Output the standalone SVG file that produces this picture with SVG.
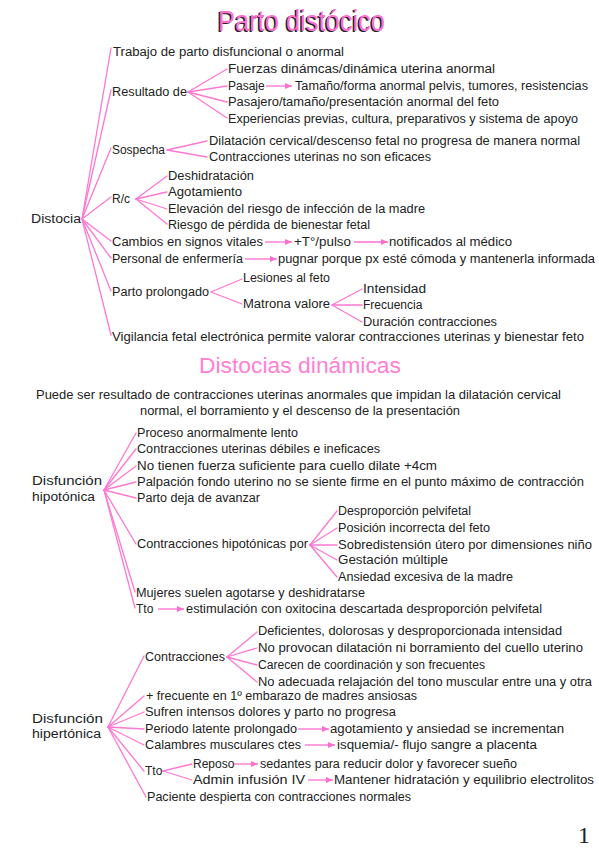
<svg xmlns="http://www.w3.org/2000/svg" width="599" height="848" viewBox="0 0 599 848">
<defs>
<marker id="ah" markerWidth="7" markerHeight="6" refX="7" refY="3" orient="auto" markerUnits="userSpaceOnUse">
<path d="M0,0 L7,3 L0,6 z" fill="#ff6fcf"/>
</marker>
<style>
text{font-family:"Liberation Sans",Arial,sans-serif;font-size:12px;fill:#222}
.c line{stroke:#ff78d2;stroke-width:1.3;stroke-linecap:round}
.a line{stroke:#ff6fcf;stroke-width:1.3;marker-end:url(#ah)}
.title{font-size:30px;fill:#ff6fcf}
.shadow{font-size:30px;fill:#222}
.title2{font-size:22px;fill:#ff80d5}
</style>
</defs>
<rect width="599" height="848" fill="#fff"/>

<g id="title1">
<text class="shadow" x="216.5" y="32" textLength="167" lengthAdjust="spacingAndGlyphs">Parto distócico</text>
<text class="title" x="218" y="31" textLength="167" lengthAdjust="spacingAndGlyphs">Parto distócico</text>
</g>

<g class="c" id="connectors">
<line x1="82" y1="219" x2="111" y2="48"/>
<line x1="82" y1="219" x2="111" y2="90"/>
<line x1="82" y1="219" x2="111" y2="148"/>
<line x1="82" y1="219" x2="111" y2="197"/>
<line x1="82" y1="219" x2="111" y2="241"/>
<line x1="82" y1="219" x2="111" y2="258"/>
<line x1="82" y1="219" x2="111" y2="291"/>
<line x1="82" y1="219" x2="111" y2="335"/>
<line x1="188" y1="92" x2="227" y2="69"/>
<line x1="188" y1="92" x2="227" y2="86"/>
<line x1="188" y1="92" x2="227" y2="102"/>
<line x1="188" y1="92" x2="227" y2="118"/>
<line x1="167" y1="150" x2="207" y2="141"/>
<line x1="167" y1="150" x2="207" y2="157"/>
<line x1="136" y1="199" x2="167" y2="176"/>
<line x1="136" y1="199" x2="167" y2="192"/>
<line x1="136" y1="199" x2="167" y2="209"/>
<line x1="136" y1="199" x2="167" y2="224"/>
<line x1="211" y1="292" x2="242" y2="279"/>
<line x1="211" y1="292" x2="242" y2="304"/>
<line x1="332" y1="305" x2="362" y2="289"/>
<line x1="332" y1="305" x2="362" y2="305"/>
<line x1="332" y1="305" x2="362" y2="322"/>
<line x1="104" y1="490" x2="136" y2="433"/>
<line x1="104" y1="490" x2="136" y2="449"/>
<line x1="104" y1="490" x2="136" y2="466"/>
<line x1="104" y1="490" x2="136" y2="482"/>
<line x1="104" y1="490" x2="136" y2="498"/>
<line x1="104" y1="490" x2="136" y2="544"/>
<line x1="104" y1="490" x2="135" y2="592"/>
<line x1="104" y1="490" x2="135" y2="608"/>
<line x1="310" y1="545" x2="337" y2="511"/>
<line x1="310" y1="545" x2="337" y2="528"/>
<line x1="310" y1="545" x2="337" y2="545"/>
<line x1="310" y1="545" x2="337" y2="560"/>
<line x1="310" y1="545" x2="337" y2="577"/>
<line x1="108" y1="727" x2="144" y2="656"/>
<line x1="108" y1="727" x2="144" y2="696"/>
<line x1="108" y1="727" x2="144" y2="712"/>
<line x1="108" y1="727" x2="144" y2="729"/>
<line x1="108" y1="727" x2="144" y2="745"/>
<line x1="108" y1="727" x2="144" y2="771"/>
<line x1="108" y1="727" x2="146" y2="797"/>
<line x1="227" y1="657" x2="257" y2="632"/>
<line x1="227" y1="657" x2="257" y2="648"/>
<line x1="227" y1="657" x2="257" y2="665"/>
<line x1="227" y1="657" x2="257" y2="682"/>
<line x1="163" y1="771" x2="192" y2="764"/>
<line x1="163" y1="771" x2="192" y2="780"/>
</g>

<g class="a" id="arrows">
<line x1="266" y1="86" x2="292" y2="86"/>
<line x1="265" y1="242" x2="292" y2="242"/>
<line x1="354" y1="242" x2="388" y2="242"/>
<line x1="245" y1="259" x2="277" y2="259"/>
<line x1="158" y1="609" x2="184" y2="609"/>
<line x1="298" y1="729" x2="329" y2="729"/>
<line x1="305" y1="745" x2="335" y2="745"/>
<line x1="234" y1="764" x2="258" y2="764"/>
<line x1="308" y1="780" x2="333" y2="780"/>
</g>

<g id="distocia"><text x="31" y="223" textLength="50" lengthAdjust="spacingAndGlyphs">Distocia</text></g>
<g id="trabajo"><text x="113" y="56" textLength="231" lengthAdjust="spacingAndGlyphs">Trabajo de parto disfuncional o anormal</text></g>
<g id="resultado"><text x="112" y="96" textLength="75" lengthAdjust="spacingAndGlyphs">Resultado de</text></g>
<g id="fuerzas"><text x="228" y="73" textLength="267" lengthAdjust="spacingAndGlyphs">Fuerzas dinámcas/dinámica uterina anormal</text></g>
<g id="pasaje"><text x="228" y="90">Pasaje</text></g>
<g id="tamano"><text x="295" y="90" textLength="293" lengthAdjust="spacingAndGlyphs">Tamaño/forma anormal pelvis, tumores, resistencias</text></g>
<g id="pasajero"><text x="228" y="106" textLength="271" lengthAdjust="spacingAndGlyphs">Pasajero/tamaño/presentación anormal del feto</text></g>
<g id="experiencias"><text x="228" y="122.5" textLength="350" lengthAdjust="spacingAndGlyphs">Experiencias previas, cultura, preparativos y sistema de apoyo</text></g>
<g id="sospecha"><text x="112" y="154" textLength="53" lengthAdjust="spacingAndGlyphs">Sospecha</text></g>
<g id="dilatacion"><text x="209" y="145" textLength="371" lengthAdjust="spacingAndGlyphs">Dilatación cervical/descenso fetal no progresa de manera normal</text></g>
<g id="contr-ef"><text x="209" y="161" textLength="222" lengthAdjust="spacingAndGlyphs">Contracciones uterinas no son eficaces</text></g>
<g id="rc"><text x="112" y="203">R/c</text></g>
<g id="deshidratacion"><text x="168" y="180" textLength="86" lengthAdjust="spacingAndGlyphs">Deshidratación</text></g>
<g id="agotamiento"><text x="168" y="196" textLength="74" lengthAdjust="spacingAndGlyphs">Agotamiento</text></g>
<g id="elevacion"><text x="168" y="213" textLength="257" lengthAdjust="spacingAndGlyphs">Elevación del riesgo de infección de la madre</text></g>
<g id="riesgo"><text x="168" y="228.5" textLength="202" lengthAdjust="spacingAndGlyphs">Riesgo de pérdida de bienestar fetal</text></g>
<g id="cambios"><text x="112" y="246" textLength="151" lengthAdjust="spacingAndGlyphs">Cambios en signos vitales</text></g>
<g id="ta"><text x="294" y="246" textLength="57" lengthAdjust="spacingAndGlyphs">+T°/pulso</text></g>
<g id="notificados"><text x="389" y="246" textLength="123" lengthAdjust="spacingAndGlyphs">notificados al médico</text></g>
<g id="personal"><text x="112" y="263" textLength="131" lengthAdjust="spacingAndGlyphs">Personal de enfermería</text></g>
<g id="pugnar"><text x="278" y="263" textLength="317" lengthAdjust="spacingAndGlyphs">pugnar porque px esté cómoda y mantenerla informada</text></g>
<g id="prolongado"><text x="112" y="296" textLength="97" lengthAdjust="spacingAndGlyphs">Parto prolongado</text></g>
<g id="lesiones"><text x="243" y="282" textLength="87" lengthAdjust="spacingAndGlyphs">Lesiones al feto</text></g>
<g id="matrona"><text x="243" y="308" textLength="87" lengthAdjust="spacingAndGlyphs">Matrona valore</text></g>
<g id="intensidad"><text x="363" y="293" textLength="63" lengthAdjust="spacingAndGlyphs">Intensidad</text></g>
<g id="frecuencia"><text x="363" y="309">Frecuencia</text></g>
<g id="duracion"><text x="363" y="326" textLength="134" lengthAdjust="spacingAndGlyphs">Duración contracciones</text></g>
<g id="vigilancia"><text x="112" y="340.5" textLength="472" lengthAdjust="spacingAndGlyphs">Vigilancia fetal electrónica permite valorar contracciones uterinas y bienestar feto</text></g>

<g id="title2"><text class="title2" x="199" y="373" textLength="202" lengthAdjust="spacingAndGlyphs">Distocias dinámicas</text></g>
<g id="intro">
<text x="36" y="399" textLength="525" lengthAdjust="spacingAndGlyphs">Puede ser resultado de contracciones uterinas anormales que impidan la dilatación cervical</text>
<text x="140" y="415" textLength="320" lengthAdjust="spacingAndGlyphs">normal, el borramiento y el descenso de la presentación</text>
</g>

<g id="hipotonica">
<text x="32" y="485" textLength="70" lengthAdjust="spacingAndGlyphs">Disfunción</text>
<text x="32" y="501" textLength="63" lengthAdjust="spacingAndGlyphs">hipotónica</text>
</g>
<g id="proceso"><text x="137" y="437" textLength="161" lengthAdjust="spacingAndGlyphs">Proceso anormalmente lento</text></g>
<g id="debiles"><text x="137" y="453" textLength="243" lengthAdjust="spacingAndGlyphs">Contracciones uterinas débiles e ineficaces</text></g>
<g id="fuerza"><text x="137" y="470" textLength="300" lengthAdjust="spacingAndGlyphs">No tienen fuerza suficiente para cuello dilate +4cm</text></g>
<g id="palpacion"><text x="137" y="486" textLength="447" lengthAdjust="spacingAndGlyphs">Palpación fondo uterino no se siente firme en el punto máximo de contracción</text></g>
<g id="deja"><text x="137" y="502" textLength="123" lengthAdjust="spacingAndGlyphs">Parto deja de avanzar</text></g>
<g id="hipo-por"><text x="137" y="548" textLength="171" lengthAdjust="spacingAndGlyphs">Contracciones hipotónicas por</text></g>
<g id="desproporcion"><text x="338" y="515" textLength="133" lengthAdjust="spacingAndGlyphs">Desproporción pelvifetal</text></g>
<g id="posicion"><text x="338" y="532" textLength="152" lengthAdjust="spacingAndGlyphs">Posición incorrecta del feto</text></g>
<g id="sobredistension"><text x="338" y="549" textLength="254" lengthAdjust="spacingAndGlyphs">Sobredistensión útero por dimensiones niño</text></g>
<g id="gestacion"><text x="338" y="564" textLength="110" lengthAdjust="spacingAndGlyphs">Gestación múltiple</text></g>
<g id="ansiedad"><text x="338" y="581" textLength="175" lengthAdjust="spacingAndGlyphs">Ansiedad excesiva de la madre</text></g>
<g id="mujeres"><text x="136" y="597" textLength="229" lengthAdjust="spacingAndGlyphs">Mujeres suelen agotarse y deshidratarse</text></g>
<g id="tto1"><text x="136" y="613">Tto</text></g>
<g id="estimulacion"><text x="186" y="613" textLength="356" lengthAdjust="spacingAndGlyphs">estimulación con oxitocina descartada desproporción pelvifetal</text></g>

<g id="hipertonica">
<text x="32" y="723" textLength="71" lengthAdjust="spacingAndGlyphs">Disfunción</text>
<text x="32" y="738" textLength="69" lengthAdjust="spacingAndGlyphs">hipertónica</text>
</g>
<g id="contracciones"><text x="145" y="661" textLength="80" lengthAdjust="spacingAndGlyphs">Contracciones</text></g>
<g id="deficientes"><text x="258" y="635" textLength="304" lengthAdjust="spacingAndGlyphs">Deficientes, dolorosas y desproporcionada intensidad</text></g>
<g id="provocan"><text x="258" y="652" textLength="325" lengthAdjust="spacingAndGlyphs">No provocan dilatación ni borramiento del cuello uterino</text></g>
<g id="carecen"><text x="258" y="669" textLength="227" lengthAdjust="spacingAndGlyphs">Carecen de coordinación y son frecuentes</text></g>
<g id="adecuada"><text x="258" y="686" textLength="334" lengthAdjust="spacingAndGlyphs">No adecuada relajación del tono muscular entre una y otra</text></g>
<g id="frecuente"><text x="146" y="700" textLength="271" lengthAdjust="spacingAndGlyphs">+ frecuente en 1º embarazo de madres ansiosas</text></g>
<g id="sufren"><text x="145" y="716" textLength="251" lengthAdjust="spacingAndGlyphs">Sufren intensos dolores y parto no progresa</text></g>
<g id="periodo"><text x="145" y="733" textLength="152" lengthAdjust="spacingAndGlyphs">Periodo latente prolongado</text></g>
<g id="agot-ans"><text x="330" y="733" textLength="234" lengthAdjust="spacingAndGlyphs">agotamiento y ansiedad se incrementan</text></g>
<g id="calambres"><text x="145" y="749" textLength="156" lengthAdjust="spacingAndGlyphs">Calambres musculares ctes</text></g>
<g id="isquemia"><text x="337" y="749" textLength="200" lengthAdjust="spacingAndGlyphs">isquemia/- flujo sangre a placenta</text></g>
<g id="tto2"><text x="145" y="775">Tto</text></g>
<g id="reposo"><text x="193" y="768">Reposo</text></g>
<g id="sedantes"><text x="260" y="768" textLength="257" lengthAdjust="spacingAndGlyphs">sedantes para reducir dolor y favorecer sueño</text></g>
<g id="admin"><text x="193" y="784" textLength="112" lengthAdjust="spacingAndGlyphs">Admin infusión IV</text></g>
<g id="mantener"><text x="334" y="784" textLength="260" lengthAdjust="spacingAndGlyphs">Mantener hidratación y equilibrio electrolitos</text></g>
<g id="paciente"><text x="147" y="800.5" textLength="264" lengthAdjust="spacingAndGlyphs">Paciente despierta con contracciones normales</text></g>

<g id="page"><text x="578" y="843" style="font-size:24px;font-family:'Liberation Serif',serif">1</text></g>
</svg>
